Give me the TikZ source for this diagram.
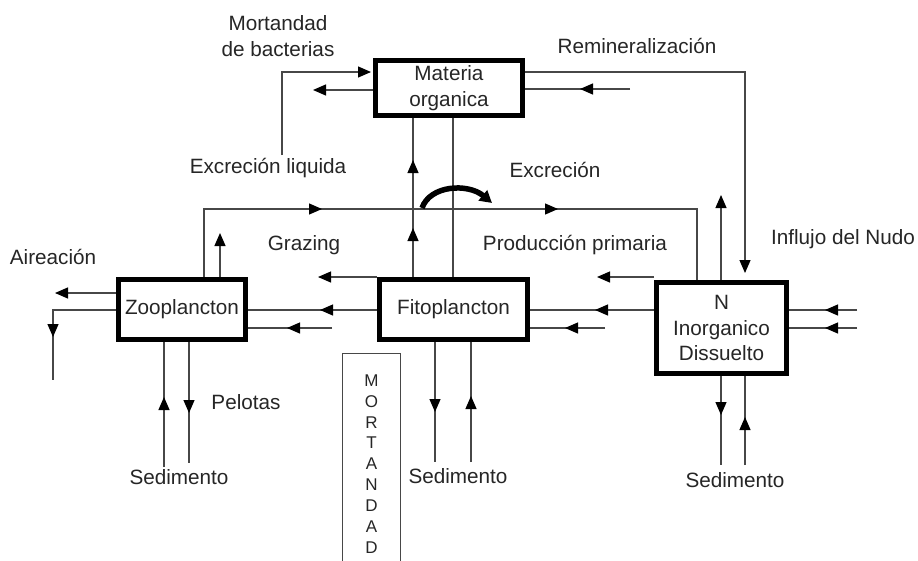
\documentclass[tikz,border=0pt]{standalone}
\usepackage{fontspec}
\setmainfont{Liberation Sans}
\usetikzlibrary{arrows.meta,decorations.markings}

\definecolor{ink}{HTML}{262626}
\definecolor{wirec}{HTML}{474747}

\newcommand\lblfont{\fontsize{20.7}{25.5}\selectfont}
\newcommand\colfont{\fontsize{17}{20.9}\selectfont}

\tikzset{
  compartment/.style={draw=black, line width=5pt, inner sep=0pt, align=center,
    text=ink, font=\lblfont},
  lbl/.style={text=ink, font=\lblfont, inner sep=0pt, align=center},
  wire/.style={draw=wirec, line width=1.2pt},
  headend/.style={-{Triangle[length=13pt,width=11pt,color=black]}},
  flowmark/.style={postaction={decorate,decoration={markings,
    mark=at position #1 with {\arrow[black]{Triangle[length=13pt,width=11pt]}}}}},
}

\begin{document}
\begin{tikzpicture}[x=1pt,y=-1pt]
  \useasboundingbox (0,0) rectangle (918,560);
  \fill[white] (0,0) rectangle (918,560);

  % compartments
  \node[compartment, minimum width=147pt, minimum height=55pt] (mo) at (449,88) {Materia\\organica};
  \node[compartment, minimum width=127pt, minimum height=60pt] (zoo) at (182,309.5) {Zooplancton};
  \node[compartment, minimum width=148pt, minimum height=60pt] (fito) at (453.5,309.5) {Fitoplancton};
  \node[compartment, minimum width=130pt, minimum height=91pt] (nin) at (721.5,328) {N\\Inorganico\\Dissuelto};
  \node[draw=wirec, line width=1pt, minimum width=58pt, minimum height=222pt,
        inner sep=0pt, align=center, text=ink, font=\colfont] (mort) at (371.5,464)
        {M\\O\\R\\T\\A\\N\\D\\A\\D};

  % labels
  \node[lbl] (tMort) at (278,36) {Mortandad\\de bacterias};
  \node[lbl] (tExLiq) at (268,168) {Excreción liquida};
  \node[lbl] (tRemin) at (637,46) {Remineralización};
  \node[lbl] (tExcr) at (555,170) {Excreción};
  \node[lbl] (tGraz) at (304,245) {Grazing};
  \node[lbl] (tProd) at (575,245) {Producción primaria};
  \node[lbl] (tInfl) at (843,239) {Influjo del Nudo};
  \node[lbl] (tAire) at (53,257) {Aireación};
  \node[lbl] (tPel) at (246,402) {Pelotas};
  \node[lbl] (tSedZ) at (179,477) {Sedimento};
  \node[lbl] (tSedF) at (458,476) {Sedimento};
  \node[lbl] (tSedN) at (735,480) {Sedimento};

  % free ends and bends of the connectors
  \coordinate (mbFoot) at (282,155);
  \coordinate (mbCorner) at (282,72);
  \coordinate (moOut) at (313,90);
  \coordinate (remCorner) at (745,72);
  \coordinate (remIn) at (630,89);
  \coordinate (colA) at (413,200);
  \coordinate (colB) at (453,200);
  \coordinate (exA) at (204,209);
  \coordinate (exB) at (697,209);
  \coordinate (zooUp) at (220,233);
  \coordinate (ninUp) at (721,195);
  \coordinate (grzL) at (318,277);
  \coordinate (grzR) at (597,277);
  \coordinate (rowA) at (53,310);
  \coordinate (rowAdown) at (53,380);
  \coordinate (zooRet) at (332,328);
  \coordinate (fitoRet) at (605,328);
  \coordinate (inA) at (857,310);
  \coordinate (inB) at (857,328);
  \coordinate (aire) at (55,293);
  \coordinate (zs1) at (164,467);
  \coordinate (zs2) at (189,463);
  \coordinate (fs1) at (435,462);
  \coordinate (fs2) at (471,462);
  \coordinate (ns1) at (721,465);
  \coordinate (ns2) at (745,465);

  % organic matter loop
  \draw[wire, headend, shorten >=2pt] (mbFoot) -- (mbCorner) -- (mbCorner -| mo.west);
  \draw[wire, headend] (moOut -| mo.west) -- (moOut);
  \draw[wire, headend, shorten >=7pt] (remCorner -| mo.east) -- (remCorner) -- (remCorner |- nin.north);
  \draw[wire, flowmark=50pt] (remIn) -- (remIn -| mo.east);
  \draw[wire, flowmark=49pt, flowmark=117pt] (colA |- fito.north) -- (colA |- mo.south);
  \draw[wire] (colB |- fito.north) -- (colB |- mo.south);

  % excretion line and the bent arrow that hops over it
  \draw[wire, flowmark=186pt, flowmark=422pt] (exA |- zoo.north) -- (exA) -- (exB) -- (exB |- nin.north);
  \draw[line width=5.5pt, -{Triangle[length=12pt,width=13pt]}]
    (422,208) .. controls (430,185) and (468,183) .. (492,203);

  \draw[wire, headend] (zooUp |- zoo.north) -- (zooUp);
  \draw[wire, headend] (ninUp |- nin.north) -- (ninUp);

  % grazing / primary production
  \draw[wire, headend] (fito.north west) -- (grzL);
  \draw[wire, headend] (nin.west |- fito.north) -- (grzR);
  \draw[wire, flowmark=57pt] (fito.west |- rowA) -- (zoo.east |- rowA);
  \draw[wire, flowmark=45pt] (zooRet) -- (zooRet -| zoo.east);
  \draw[wire, flowmark=59pt] (nin.west |- rowA) -- (fito.east |- rowA);
  \draw[wire, flowmark=40pt] (fitoRet) -- (fitoRet -| fito.east);

  % nitrogen inflow
  \draw[wire, flowmark=32pt] (inA) -- (inA -| nin.east);
  \draw[wire, flowmark=32pt] (inB) -- (inB -| nin.east);

  % aeration and losses
  \draw[wire, headend] (aire -| zoo.west) -- (aire);
  \draw[wire, flowmark=90pt] (rowA -| zoo.west) -- (rowA) -- (rowAdown);

  % sediment exchange
  \draw[wire, flowmark=70pt] (zs1) -- (zs1 |- zoo.south);
  \draw[wire, flowmark=71pt] (zs2 |- zoo.south) -- (zs2);
  \draw[wire, flowmark=70pt] (fs1 |- fito.south) -- (fs1);
  \draw[wire, flowmark=66pt] (fs2) -- (fs2 |- fito.south);
  \draw[wire, flowmark=39pt] (ns1 |- nin.south) -- (ns1);
  \draw[wire, flowmark=48pt] (ns2) -- (ns2 |- nin.south);
\end{tikzpicture}
\end{document}
